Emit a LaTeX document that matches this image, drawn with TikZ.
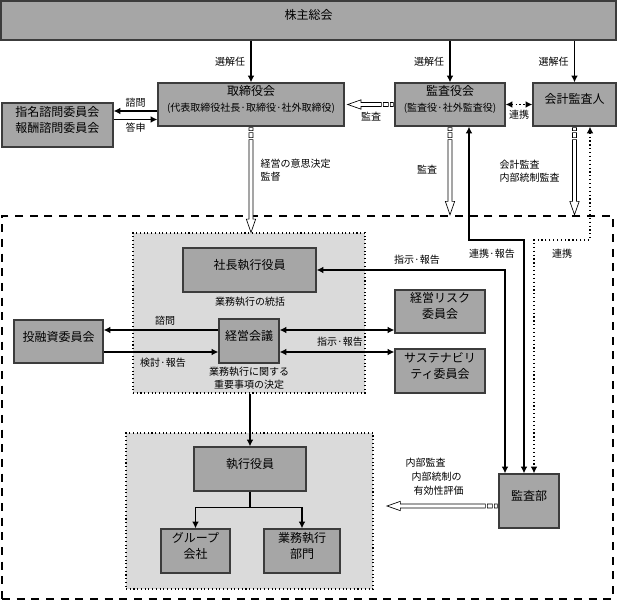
\documentclass[tikz,border=0pt]{standalone}
\usepackage{fontspec}
\setmainfont{Noto Sans CJK JP}
\usetikzlibrary{arrows.meta,calc,fit}
\definecolor{boxgray}{RGB}{166,166,166}
\definecolor{lightbg}{RGB}{218,218,218}
\definecolor{edgec}{RGB}{60,60,60}
\tikzset{
 dbox/.style={draw=edgec, line width=1pt, fill=boxgray, inner sep=0pt, align=center, font=\fontsize{9}{12}\selectfont},
 lbox/.style={draw=black, line width=0.8pt, dotted, fill=lightbg, inner sep=0pt},
 obox/.style={draw=black, line width=1.9pt, dash pattern=on 6pt off 5pt, inner sep=0pt},
 lab/.style={font=\fontsize{7.5}{10}\selectfont, inner sep=1pt, align=center},
 arr/.style={line width=0.9pt, -{Latex[length=5pt,width=5pt]}},
 arrb/.style={line width=0.9pt, {Latex[length=5pt,width=5pt]}-{Latex[length=5pt,width=5pt]}},
 dotarrb/.style={line width=0.9pt, dotted, {Latex[length=5pt,width=5pt]}-{Latex[length=5pt,width=5pt]}},
 hol/.style={draw=black, line width=0.5pt, fill=white},
}
\newcommand\holdown[2]{%
 \draw[hol] let \p1=#1, \p2=#2 in
  (\x1-1.5pt,\y1-9.75pt) -- (\x1-1.5pt,\y2+10pt) -- (\x1-3.5pt,\y2+10pt) -- (\x1,\y2)
  -- (\x1+3.5pt,\y2+10pt) -- (\x1+1.5pt,\y2+10pt) -- (\x1+1.5pt,\y1-9.75pt) -- cycle
  (\x1-1.5pt,\y1-0.75pt) rectangle (\x1+1.5pt,\y1-3pt)
  (\x1-1.5pt,\y1-4.5pt) rectangle (\x1+1.5pt,\y1-8.25pt);}
\newcommand\holleft[2]{%
 \draw[hol] let \p1=#1, \p2=#2 in
  (\x1-9.75pt,\y1+1.5pt) -- (\x2+10pt,\y1+1.5pt) -- (\x2+10pt,\y1+3.5pt) -- (\x2,\y1)
  -- (\x2+10pt,\y1-3.5pt) -- (\x2+10pt,\y1-1.5pt) -- (\x1-9.75pt,\y1-1.5pt) -- cycle
  (\x1-0.75pt,\y1+1.5pt) rectangle (\x1-3pt,\y1-1.5pt)
  (\x1-4.5pt,\y1+1.5pt) rectangle (\x1-8.25pt,\y1-1.5pt);}
\begin{document}
\begin{tikzpicture}[x=0.75pt,y=-0.75pt]
\useasboundingbox (0,0) rectangle (617,605);
% containers
\node[obox, fit={(2,216)(613,599)}] (outer) {};
\node[lbox, fit={(133,233)(365,393)}] (exec1) {};
\node[lbox, fit={(126,433)(373,589)}] (exec2) {};
% boxes
\node[dbox, fit={(1,1)(616,40)}] (kabu) {株主総会};
\node[dbox, fit={(158,83)(344,126)}] (tori) {取締役会\\{\fontsize{7.5}{10}\selectfont (代表取締役社長·取締役·社外取締役)}};
\node[dbox, fit={(2,103)(113,147)}] (shimei) {指名諮問委員会\\報酬諮問委員会};
\node[dbox, fit={(395,83)(505,126)}] (kansa) {監査役会\\{\fontsize{7.5}{10}\selectfont (監査役·社外監査役)}};
\node[dbox, fit={(533,83)(616,126)}] (kaikei) {会計監査人};
\node[dbox, fit={(183,248)(316,292)}] (shacho) {社長執行役員};
\node[dbox, fit={(219,319)(279,363)}] (keiei) {経営会議};
\node[dbox, fit={(14,320)(103,363)}] (toyushi) {投融資委員会};
\node[dbox, fit={(395,290)(485,333)}] (risk) {経営リスク\\委員会};
\node[dbox, fit={(395,349)(485,393)}] (sust) {サステナビリ\\ティ委員会};
\node[dbox, fit={(194,447)(306,491)}] (shikko) {執行役員};
\node[dbox, fit={(161,529)(230,573)}] (group) {グループ\\会社};
\node[dbox, fit={(264,529)(340,573)}] (gyomu) {業務執行\\部門};
\node[dbox, fit={(499,474)(559,528)}] (kansabu) {監査部};
% top arrows
\draw[arr] (tori.north |- kabu.south) -- node[lab,left=3pt] (l1) {選解任} (tori.north);
\draw[arr] (kansa.north |- kabu.south) -- node[lab,left=3pt] (l2) {選解任} (kansa.north);
\draw[arr] (kaikei.north |- kabu.south) -- node[lab,left=3pt] (l3) {選解任} (kaikei.north);
\coordinate (t1) at ($(tori.west)+(0,6.5)$);
\coordinate (t2) at ($(tori.west)+(0,15)$);
\draw[arr] (t1) -- node[lab,above=1pt] (l4) {諮問} (t1 -| shimei.east);
\draw[arr] (t2 -| shimei.east) -- node[lab,below=1pt] (l5) {答申} (t2);
\holleft{(kansa.west)}{($(tori.east)+(3,0)$)}
\node[lab] (l6) at (371,117) {監査};
\draw[dotarrb] (kansa.east) -- node[lab,below=3pt] (l7) {連携} (kaikei.west);
\holdown{(tori.south)}{(tori.south |- exec1.north)}
\node[lab,anchor=west,align=left] (l8) at (259,170) {経営の意思決定\\監督};
\holdown{(kansa.south)}{(kansa.south |- outer.north)}
\node[lab] (l9) at (427,170) {監査};
\holdown{(kaikei.south)}{(kaikei.south |- outer.north)}
\node[lab,anchor=west,align=left] (l10) at (498,171) {会計監査\\内部統制監査};
% links to audit department
\coordinate (lv) at (0,240);
\coordinate (kA) at ($(kansa.south)+(19,0)$);
\coordinate (kB) at ($(kansabu.north)+(-5,0)$);
\draw[arrb] (kA) -- (kA |- lv) -| (kB);
\node[lab] (l11) at (492,254) {連携·報告};
\coordinate (cA) at ($(kaikei.south)+(15.5,0)$);
\coordinate (cB) at ($(kansabu.north)+(5,0)$);
\draw[dotarrb] (cA) -- (cA |- lv) -| (cB);
\node[lab] (l12) at (562,254) {連携};
\coordinate (sB) at ($(kansabu.north)+(-24,0)$);
\draw[arrb] (shacho.east) -| (sB);
\node[lab] (l13) at (417,260) {指示·報告};
% management meeting
\node[lab] (l14) at (250,302) {業務執行の統括};
\coordinate (k1) at ($(keiei.west)+(0,-11)$);
\coordinate (k2) at ($(keiei.west)+(0,11)$);
\draw[arr] (k1) -- (k1 -| toyushi.east);
\draw[arr] (k2 -| toyushi.east) -- (k2);
\node[lab] (l15) at (165,321) {諮問};
\node[lab] (l16) at (163,363) {検討·報告};
\coordinate (k3) at ($(keiei.east)+(0,-11)$);
\coordinate (k4) at ($(keiei.east)+(0,11)$);
\draw[arrb] (k3) -- (k3 -| risk.west);
\draw[arrb] (k4) -- (k4 -| sust.west);
\node[lab] (l17) at (340,342) {指示·報告};
\node[lab] (l18) at (249,378) {業務執行に関する\\重要事項の決定};
% execution
\draw[arr] (shikko.north |- exec1.south) -- (shikko.north);
\coordinate (br) at ($(shikko.south)+(0,16)$);
\draw[arr] (shikko.south) -- (br) -| (group.north);
\draw[arr] (br) -| (gyomu.north);
% internal audit
\coordinate (naibu) at (387,506);
\holleft{(kansabu.west |- naibu)}{(naibu)}
\node[lab,anchor=west] (l19) at (404,463) {内部監査};
\node[lab,anchor=west] (l20) at (410,477) {内部統制の};
\node[lab,anchor=west] (l21) at (412,491) {有効性評価};
\end{tikzpicture}
\end{document}
